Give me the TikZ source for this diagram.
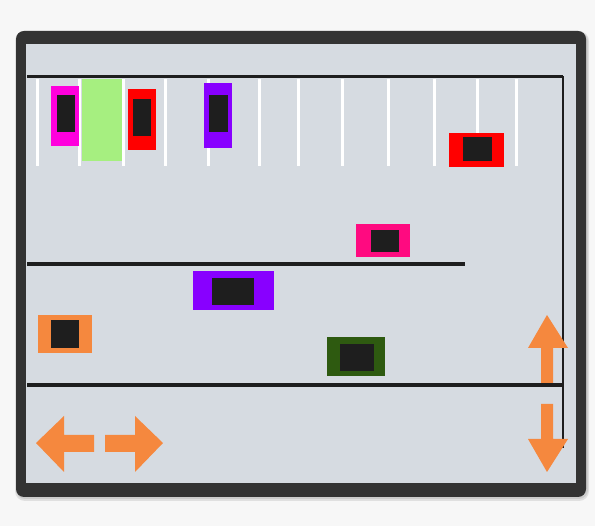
\documentclass[tikz,border=0pt]{standalone}
\definecolor{pagebg}{HTML}{F7F7F7}
\definecolor{framec}{HTML}{333333}
\definecolor{lotc}{HTML}{D6DBE1}
\definecolor{kerbc}{HTML}{1E1E1E}
\definecolor{cabc}{HTML}{1E1E1E}
\definecolor{magc}{HTML}{FF00DD}
\definecolor{greenslot}{HTML}{A6EF80}
\definecolor{redc}{HTML}{FF0000}
\definecolor{purc}{HTML}{8800FF}
\definecolor{pinkc}{HTML}{FF0A80}
\definecolor{dgreenc}{HTML}{2E5A10}
\definecolor{orangec}{HTML}{F5883E}
\tikzset{
  kerb/.style={draw=kerbc, line width=3.6pt},
  thinkerb/.style={draw=kerbc, line width=2.2pt},
  slotline/.style={draw=white, line width=3pt},
  cab/.style={fill=cabc},
  dirarrow/.style={fill=orangec}
}
\begin{document}
\begin{tikzpicture}[x=1pt,y=-1pt]
\useasboundingbox (0,0) rectangle (595,526);
\fill[pagebg] (0,0) rectangle (595,526);
% frame with soft shadow
\fill[black!12, rounded corners=10pt] (15,31) rectangle (589,501);
\fill[black!20, rounded corners=9pt] (16,32) rectangle (588,499);
\fill[framec, rounded corners=8pt] (16,31) rectangle (586,497);
\fill[lotc] (26,44) rectangle (576,483);
% slot lines
\foreach \xx in {37,79,123,165,208,259,298,342,388,434,477,516}
  \draw[slotline] (\xx,79) -- (\xx,166);
% kerbs
\coordinate (topL) at (27,76.5);
\coordinate (topR) at (563,76.5);
\coordinate (rightB) at (563,448);
\coordinate (midL) at (27,264);
\coordinate (midR) at (465,264);
\coordinate (botL) at (27,385);
\coordinate (botR) at (563,385);
\draw[kerb] (topL) -- (topR);
\draw[thinkerb] (topR) -- (rightB);
\draw[kerb] (midL) -- (midR);
\draw[kerb] (botL) -- (botR);
% free slot
\fill[greenslot] (82,79) rectangle (122,161);
% parked cars
\fill[magc] (51,86) rectangle (79,146);
\fill[cab] (57,95) rectangle (75,132);
\fill[redc] (128,89) rectangle (156,150);
\fill[cab] (133,99) rectangle (151,136);
\fill[purc] (204,83) rectangle (232,148);
\fill[cab] (209,95) rectangle (228,132);
\fill[redc] (449,133) rectangle (504,167);
\fill[cab] (463,137) rectangle (492,161);
% moving cars
\fill[pinkc] (356,224) rectangle (410,257);
\fill[cab] (371,230) rectangle (399,252);
\fill[purc] (193,271) rectangle (274,310);
\fill[cab] (212,278) rectangle (254,305);
\fill[dgreenc] (327,337) rectangle (385,376);
\fill[cab] (340,344) rectangle (374,371);
\fill[orangec] (38,315) rectangle (92,353);
\fill[cab] (51,320) rectangle (79,348);
% arrows
\fill[dirarrow] (36,443) -- (64,416) -- (64,435) -- (94,435) -- (94,452) -- (64,452) -- (64,472) -- cycle;
\fill[dirarrow] (163,443) -- (135,416) -- (135,435) -- (105,435) -- (105,452) -- (135,452) -- (135,472) -- cycle;
\fill[dirarrow] (547,315) -- (568,348) -- (553,348) -- (553,383) -- (541,383) -- (541,348) -- (528,348) -- cycle;
\fill[dirarrow] (547,472) -- (568,439) -- (553,439) -- (553,404) -- (541,404) -- (541,439) -- (528,439) -- cycle;
\end{tikzpicture}
\end{document}
